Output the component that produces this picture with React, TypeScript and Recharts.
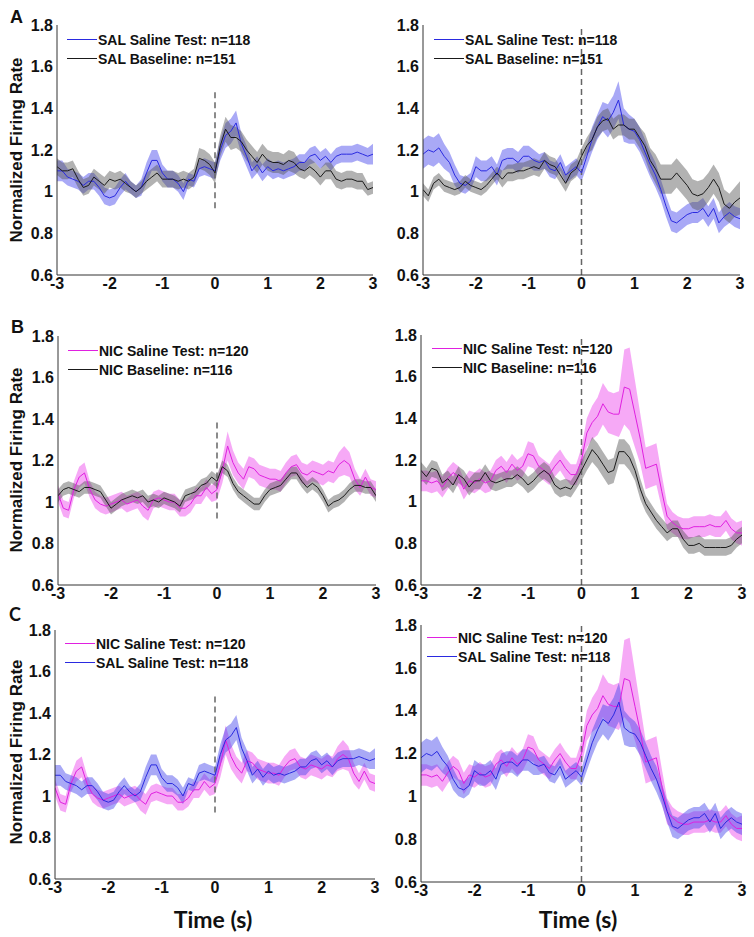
import {
  ComposedChart,
  Area,
  Line,
  XAxis,
  YAxis,
  ReferenceLine,
} from "recharts";

// time bins (s)
const TIME = [
  -3.0, -2.9, -2.8, -2.7, -2.6, -2.5, -2.4, -2.3, -2.2, -2.1,
  -2.0, -1.9, -1.8, -1.7, -1.6, -1.5, -1.4, -1.3, -1.2, -1.1,
  -1.0, -0.9, -0.8, -0.7, -0.6, -0.5, -0.4, -0.3, -0.2, -0.1,
  0.0,
  0.1, 0.2, 0.3, 0.4, 0.5, 0.6, 0.7, 0.8, 0.9, 1.0,
  1.1, 1.2, 1.3, 1.4, 1.5, 1.6, 1.7, 1.8, 1.9, 2.0,
  2.1, 2.2, 2.3, 2.4, 2.5, 2.6, 2.7, 2.8, 2.9, 3.0,
];

const X_TICKS = [-3, -2, -1, 0, 1, 2, 3];
const Y_TICKS = [0.6, 0.8, 1, 1.2, 1.4, 1.6, 1.8];

// left column
const SAL_TEST_L = [
  1.10, 1.10, 1.07, 1.06, 1.05, 1.03, 1.05, 1.05, 1.02, 0.98,
  0.97, 0.98, 1.02, 1.05, 1.02, 1.00, 1.02, 1.09, 1.15, 1.15,
  1.09, 1.06, 1.06, 1.04, 1.00, 1.06, 1.05, 1.11, 1.12, 1.11,
  1.10,
  1.20, 1.27, 1.29, 1.33, 1.23, 1.17, 1.10, 1.13, 1.09, 1.12,
  1.10, 1.11, 1.10, 1.11, 1.12, 1.14, 1.14, 1.17, 1.18, 1.15,
  1.17, 1.14, 1.17, 1.18, 1.18, 1.18, 1.19, 1.18, 1.17, 1.18,
];
const SAL_TEST_L_SEM = [
  0.05, 0.05, 0.04, 0.04, 0.04, 0.04, 0.04, 0.04, 0.04, 0.04,
  0.04, 0.04, 0.04, 0.04, 0.03, 0.03, 0.04, 0.05, 0.05, 0.05,
  0.04, 0.04, 0.04, 0.04, 0.04, 0.03, 0.03, 0.04, 0.04, 0.04,
  0.04,
  0.05, 0.06, 0.06, 0.06, 0.05, 0.05, 0.04, 0.04, 0.04, 0.04,
  0.04, 0.04, 0.04, 0.04, 0.04, 0.04, 0.04, 0.04, 0.04, 0.04,
  0.04, 0.04, 0.04, 0.04, 0.04, 0.04, 0.04, 0.04, 0.04, 0.05,
];
const SAL_BASE_L = [
  1.12, 1.10, 1.10, 1.11, 1.06, 1.02, 1.03, 1.07, 1.05, 1.03,
  1.06, 1.05, 1.06, 1.04, 1.02, 1.00, 1.02, 1.05, 1.07, 1.09,
  1.06, 1.06, 1.06, 1.05, 1.06, 1.05, 1.07, 1.16, 1.15, 1.13,
  1.09,
  1.22, 1.30, 1.26, 1.26, 1.24, 1.20, 1.17, 1.14, 1.18, 1.15,
  1.14, 1.14, 1.13, 1.15, 1.14, 1.11, 1.10, 1.12, 1.10, 1.07,
  1.10, 1.10, 1.06, 1.05, 1.06, 1.06, 1.05, 1.05, 1.01, 1.02,
];
const SAL_BASE_L_SEM = [
  0.04, 0.04, 0.04, 0.04, 0.04, 0.04, 0.04, 0.04, 0.04, 0.04,
  0.04, 0.04, 0.04, 0.04, 0.03, 0.03, 0.03, 0.04, 0.04, 0.04,
  0.04, 0.04, 0.04, 0.04, 0.04, 0.04, 0.04, 0.05, 0.05, 0.05,
  0.05,
  0.05, 0.06, 0.06, 0.05, 0.05, 0.05, 0.05, 0.05, 0.05, 0.05,
  0.05, 0.05, 0.05, 0.05, 0.05, 0.04, 0.04, 0.04, 0.04, 0.04,
  0.04, 0.04, 0.04, 0.04, 0.04, 0.04, 0.04, 0.04, 0.03, 0.03,
];
const NIC_TEST_L = [
  1.04, 0.97, 0.96, 1.06, 1.12, 1.14, 1.06, 1.01, 0.99, 0.98,
  0.99, 1.00, 1.01, 0.99, 1.00, 1.01, 0.98, 0.96, 1.01, 1.02,
  1.01, 1.00, 1.00, 0.97, 0.97, 0.99, 1.03, 1.03, 1.07, 1.04,
  1.06,
  1.15, 1.27, 1.19, 1.14, 1.11, 1.17, 1.16, 1.13, 1.12, 1.11,
  1.11, 1.10, 1.14, 1.17, 1.18, 1.14, 1.13, 1.15, 1.14, 1.13,
  1.15, 1.14, 1.18, 1.20, 1.18, 1.11, 1.07, 1.12, 1.07, 1.06,
];
const NIC_TEST_L_SEM = [
  0.04, 0.04, 0.04, 0.04, 0.05, 0.05, 0.04, 0.04, 0.04, 0.04,
  0.04, 0.04, 0.04, 0.04, 0.04, 0.04, 0.05, 0.05, 0.04, 0.04,
  0.04, 0.04, 0.04, 0.04, 0.04, 0.04, 0.04, 0.04, 0.04, 0.04,
  0.05,
  0.06, 0.07, 0.06, 0.05, 0.05, 0.05, 0.05, 0.05, 0.05, 0.05,
  0.05, 0.05, 0.05, 0.05, 0.05, 0.05, 0.05, 0.05, 0.05, 0.05,
  0.05, 0.05, 0.06, 0.07, 0.06, 0.05, 0.04, 0.04, 0.04, 0.04,
];
const NIC_BASE_L = [
  1.03, 1.06, 1.07, 1.06, 1.05, 1.07, 1.07, 1.06, 1.05, 1.01,
  0.97, 0.99, 1.01, 1.02, 1.03, 1.02, 1.03, 1.00, 1.01, 1.00,
  1.02, 1.01, 1.00, 0.98, 1.03, 1.04, 1.05, 1.08, 1.09, 1.12,
  1.10,
  1.17, 1.15, 1.09, 1.05, 1.03, 1.01, 0.99, 0.99, 1.03, 1.06,
  1.07, 1.08, 1.11, 1.14, 1.14, 1.10, 1.07, 1.09, 1.07, 1.03,
  0.98, 1.00, 1.01, 1.03, 1.06, 1.08, 1.08, 1.07, 1.07, 1.03,
];
const NIC_BASE_L_SEM = [
  0.03, 0.03, 0.03, 0.03, 0.03, 0.03, 0.03, 0.03, 0.03, 0.03,
  0.03, 0.03, 0.03, 0.03, 0.03, 0.03, 0.03, 0.03, 0.03, 0.03,
  0.03, 0.03, 0.03, 0.03, 0.03, 0.03, 0.03, 0.03, 0.03, 0.03,
  0.03,
  0.03, 0.03, 0.03, 0.03, 0.03, 0.03, 0.03, 0.03, 0.03, 0.03,
  0.03, 0.03, 0.03, 0.03, 0.03, 0.03, 0.03, 0.03, 0.03, 0.03,
  0.03, 0.03, 0.03, 0.03, 0.03, 0.03, 0.03, 0.03, 0.03, 0.03,
];

// right column
const SAL_TEST_R = [
  1.18, 1.20, 1.19, 1.21, 1.17, 1.14, 1.08, 1.04, 1.03, 1.05,
  1.12, 1.10, 1.10, 1.12, 1.08, 1.15, 1.16, 1.16, 1.14, 1.17,
  1.17, 1.15, 1.14, 1.15, 1.11, 1.10, 1.14, 1.08, 1.10, 1.12,
  1.09,
  1.17, 1.25, 1.31, 1.36, 1.34, 1.38, 1.44, 1.32, 1.30, 1.29,
  1.25, 1.19, 1.13, 1.08, 1.01, 0.93, 0.86, 0.85, 0.87, 0.89,
  0.90, 0.90, 0.92, 0.88, 0.92, 0.85, 0.88, 0.90, 0.88, 0.87,
];
const SAL_TEST_R_SEM = [
  0.07, 0.07, 0.07, 0.07, 0.06, 0.05, 0.05, 0.04, 0.04, 0.04,
  0.05, 0.05, 0.05, 0.05, 0.05, 0.05, 0.05, 0.05, 0.05, 0.05,
  0.05, 0.05, 0.04, 0.04, 0.04, 0.04, 0.04, 0.04, 0.04, 0.04,
  0.04,
  0.05, 0.06, 0.06, 0.07, 0.08, 0.08, 0.09, 0.08, 0.07, 0.06,
  0.06, 0.06, 0.06, 0.06, 0.05, 0.05, 0.05, 0.05, 0.05, 0.05,
  0.05, 0.05, 0.05, 0.05, 0.05, 0.05, 0.05, 0.05, 0.05, 0.05,
];
const SAL_BASE_R = [
  1.01, 0.98, 1.04, 1.06, 1.03, 1.02, 1.01, 1.02, 1.05, 1.03,
  1.02, 1.01, 1.03, 1.06, 1.09, 1.06, 1.09, 1.09, 1.10, 1.10,
  1.11, 1.12, 1.11, 1.15, 1.13, 1.12, 1.08, 1.04, 1.09, 1.11,
  1.17,
  1.22, 1.25, 1.31, 1.34, 1.35, 1.30, 1.32, 1.32, 1.30, 1.30,
  1.26, 1.22, 1.15, 1.11, 1.06, 1.06, 1.06, 1.09, 1.06, 1.03,
  0.99, 0.98, 0.99, 1.02, 1.06, 1.02, 0.94, 0.92, 0.95, 0.97,
];
const SAL_BASE_R_SEM = [
  0.03, 0.03, 0.03, 0.03, 0.03, 0.03, 0.03, 0.03, 0.03, 0.03,
  0.03, 0.03, 0.03, 0.03, 0.03, 0.04, 0.04, 0.04, 0.04, 0.04,
  0.04, 0.04, 0.04, 0.04, 0.04, 0.04, 0.04, 0.04, 0.04, 0.04,
  0.04,
  0.04, 0.05, 0.05, 0.05, 0.05, 0.05, 0.05, 0.05, 0.05, 0.05,
  0.05, 0.06, 0.06, 0.07, 0.07, 0.07, 0.07, 0.07, 0.07, 0.07,
  0.07, 0.07, 0.07, 0.07, 0.07, 0.07, 0.07, 0.07, 0.07, 0.08,
];
const NIC_TEST_R = [
  1.10, 1.10, 1.09, 1.10, 1.07, 1.11, 1.14, 1.12, 1.06, 1.10,
  1.09, 1.11, 1.09, 1.10, 1.15, 1.17, 1.14, 1.18, 1.15, 1.17,
  1.23, 1.22, 1.17, 1.15, 1.13, 1.17, 1.20, 1.16, 1.13, 1.13,
  1.20,
  1.33, 1.38, 1.41, 1.47, 1.43, 1.42, 1.42, 1.55, 1.54, 1.42,
  1.30, 1.16, 1.17, 1.18, 1.05, 0.93, 0.90, 0.88, 0.87, 0.87,
  0.88, 0.88, 0.88, 0.89, 0.88, 0.88, 0.91, 0.87, 0.85, 0.85,
];
const NIC_TEST_R_SEM = [
  0.05, 0.05, 0.05, 0.05, 0.05, 0.05, 0.05, 0.05, 0.05, 0.05,
  0.05, 0.05, 0.05, 0.05, 0.05, 0.05, 0.05, 0.05, 0.05, 0.05,
  0.06, 0.06, 0.05, 0.05, 0.05, 0.05, 0.05, 0.05, 0.05, 0.05,
  0.06,
  0.07, 0.08, 0.09, 0.10, 0.10, 0.10, 0.11, 0.18, 0.20, 0.16,
  0.12, 0.10, 0.10, 0.10, 0.08, 0.06, 0.05, 0.05, 0.05, 0.05,
  0.05, 0.05, 0.05, 0.05, 0.05, 0.05, 0.05, 0.05, 0.05, 0.06,
];
const NIC_BASE_R = [
  1.15, 1.12, 1.16, 1.15, 1.09, 1.11, 1.08, 1.13, 1.11, 1.07,
  1.10, 1.10, 1.14, 1.10, 1.09, 1.10, 1.11, 1.11, 1.13, 1.11,
  1.08, 1.10, 1.13, 1.15, 1.13, 1.08, 1.06, 1.07, 1.06, 1.10,
  1.15,
  1.20, 1.25, 1.22, 1.18, 1.14, 1.15, 1.24, 1.24, 1.21, 1.15,
  1.06, 0.99, 0.95, 0.91, 0.88, 0.85, 0.87, 0.87, 0.82, 0.79,
  0.79, 0.80, 0.78, 0.78, 0.78, 0.78, 0.78, 0.79, 0.82, 0.84,
];
const NIC_BASE_R_SEM = [
  0.04, 0.04, 0.04, 0.04, 0.04, 0.04, 0.04, 0.04, 0.04, 0.04,
  0.04, 0.04, 0.04, 0.04, 0.04, 0.04, 0.04, 0.04, 0.04, 0.04,
  0.04, 0.04, 0.04, 0.04, 0.04, 0.04, 0.04, 0.04, 0.04, 0.04,
  0.05,
  0.05, 0.06, 0.06, 0.06, 0.06, 0.06, 0.06, 0.06, 0.06, 0.05,
  0.05, 0.04, 0.04, 0.04, 0.04, 0.04, 0.04, 0.04, 0.04, 0.04,
  0.04, 0.04, 0.04, 0.04, 0.04, 0.04, 0.04, 0.04, 0.04, 0.04,
];

const BLUE = { line: "#2a2ae0", fill: "#4141eb" };
const MAGENTA = { line: "#e020e0", fill: "#eb41eb" };
const BLACK = { line: "#1a1a1a", fill: "#555555" };

const TICK_FONT = {
  fontFamily: "'Liberation Sans', Arial, sans-serif",
  fontWeight: "bold",
  fontSize: 16,
  fill: "#111",
};

type Series = {
  name: string;
  mean: number[];
  sem: number[];
  color: { line: string; fill: string };
};

function buildRows(a: Series, b: Series) {
  return TIME.map((t, i) => ({
    t,
    a: a.mean[i],
    aBand: [a.mean[i] - a.sem[i], a.mean[i] + a.sem[i]],
    b: b.mean[i],
    bBand: [b.mean[i] - b.sem[i], b.mean[i] + b.sem[i]],
  }));
}

const salTestL = { name: "SAL Saline Test: n=118", mean: SAL_TEST_L, sem: SAL_TEST_L_SEM, color: BLUE };
const salBaseL = { name: "SAL Baseline: n=151", mean: SAL_BASE_L, sem: SAL_BASE_L_SEM, color: BLACK };
const nicTestL = { name: "NIC Saline Test: n=120", mean: NIC_TEST_L, sem: NIC_TEST_L_SEM, color: MAGENTA };
const nicBaseL = { name: "NIC Baseline: n=116", mean: NIC_BASE_L, sem: NIC_BASE_L_SEM, color: BLACK };
const salTestR = { name: "SAL Saline Test: n=118", mean: SAL_TEST_R, sem: SAL_TEST_R_SEM, color: BLUE };
const salBaseR = { name: "SAL Baseline: n=151", mean: SAL_BASE_R, sem: SAL_BASE_R_SEM, color: BLACK };
const nicTestR = { name: "NIC Saline Test: n=120", mean: NIC_TEST_R, sem: NIC_TEST_R_SEM, color: MAGENTA };
const nicBaseR = { name: "NIC Baseline: n=116", mean: NIC_BASE_R, sem: NIC_BASE_R_SEM, color: BLACK };

type PanelProps = {
  x: number; // plot-area left in page px
  y: number; // plot-area top
  w: number;
  h: number;
  a: Series;
  b: Series;
  dash?: [number, number]; // short dashed line at t=0, else full height
  legendDx?: number;
  legendDy?: number;
};

function Panel({ x, y, w, h, a, b, dash, legendDx = 10, legendDy = 14 }: PanelProps) {
  const yw = 50;
  const mt = 10;
  const mr = 10;
  const xh = 30;
  const rows = buildRows(a, b);
  return (
    <div style={{ position: "absolute", left: x - yw, top: y - mt }}>
      <ComposedChart
        width={yw + w + mr}
        height={mt + h + xh}
        data={rows}
        margin={{ top: mt, right: mr, left: 0, bottom: 0 }}
      >
        <XAxis
          type="number"
          dataKey="t"
          domain={[-3, 3]}
          ticks={X_TICKS}
          height={xh}
          tickLine={false}
          tickSize={0}
          tickMargin={3}
          axisLine={{ stroke: "#333" }}
          tick={TICK_FONT}
          allowDataOverflow
        />
        <YAxis
          type="number"
          domain={[0.6, 1.8]}
          ticks={Y_TICKS}
          width={yw}
          tickLine={false}
          tickSize={0}
          tickMargin={4}
          axisLine={{ stroke: "#333" }}
          tick={TICK_FONT}
          tickFormatter={(v: number) => (v === 1 ? "1" : v.toFixed(1))}
          allowDataOverflow
        />
        <Area
          dataKey="aBand"
          type="linear"
          stroke="none"
          fill={a.color.fill}
          fillOpacity={0.45}
          isAnimationActive={false}
        />
        <Area
          dataKey="bBand"
          type="linear"
          stroke="none"
          fill={b.color.fill}
          fillOpacity={0.45}
          isAnimationActive={false}
        />
        {dash ? (
          <ReferenceLine
            segment={[{ x: 0, y: dash[0] }, { x: 0, y: dash[1] }]}
            stroke="#666"
            strokeWidth={1.5}
            strokeDasharray="6 4"
          />
        ) : (
          <ReferenceLine x={0} stroke="#666" strokeWidth={1.5} strokeDasharray="6 4" />
        )}
        <Line dataKey="a" type="linear" stroke={a.color.line} strokeWidth={1} dot={false} isAnimationActive={false} />
        <Line dataKey="b" type="linear" stroke={b.color.line} strokeWidth={1} dot={false} isAnimationActive={false} />
      </ComposedChart>
      <div
        style={{
          position: "absolute",
          left: yw + legendDx,
          top: mt + legendDy - 9,
          fontFamily: "'Liberation Sans', Arial, sans-serif",
          fontWeight: "bold",
          fontSize: 14,
          color: "#111",
        }}
      >
        {[a, b].map((s) => (
          <div key={s.name} style={{ display: "flex", alignItems: "center", height: 19 }}>
            <span style={{ width: 30, borderTop: `1px solid ${s.color.line}`, marginRight: 1 }} />
            <span>{s.name}</span>
          </div>
        ))}
      </div>
    </div>
  );
}

const yLabelStyle = (cy: number): React.CSSProperties => ({
  position: "absolute",
  left: 17 - 125,
  top: cy - 10,
  width: 250,
  height: 20,
  lineHeight: "20px",
  textAlign: "center",
  transform: "rotate(-90deg)",
  fontFamily: "'Liberation Sans', Arial, sans-serif",
  fontWeight: "bold",
  fontSize: 17,
  color: "#111",
});

const letterStyle = (left: number, top: number): React.CSSProperties => ({
  position: "absolute",
  left,
  top,
  fontFamily: "'Liberation Sans', Arial, sans-serif",
  fontWeight: "bold",
  fontSize: 18,
  lineHeight: 1,
  color: "#111",
});

const timeStyle = (cx: number): React.CSSProperties => ({
  position: "absolute",
  left: cx - 60,
  top: 905,
  width: 120,
  textAlign: "center",
  fontFamily: "Lato, 'Open Sans', sans-serif",
  fontWeight: "bold",
  fontSize: 23,
  lineHeight: "28px",
  color: "#111",
});

export default function App() {
  return (
    <div
      style={{
        position: "absolute",
        left: 0,
        top: 0,
        width: 754,
        height: 937,
        background: "#fff",
        overflow: "hidden",
      }}
    >
      <div style={letterStyle(10, 8)}>A</div>
      <div style={letterStyle(11, 318)}>B</div>
      <div style={{ ...letterStyle(9, 605), fontFamily: "Lato, sans-serif" }}>C</div>

      <div style={yLabelStyle(150)}>Normalized Firing Rate</div>
      <div style={yLabelStyle(460)}>Normalized Firing Rate</div>
      <div style={yLabelStyle(752)}>Normalized Firing Rate</div>

      <Panel x={57} y={25} w={316} h={250} a={salTestL} b={salBaseL} dash={[0.92, 1.49]} />
      <Panel x={423} y={25} w={317} h={250} a={salTestR} b={salBaseR} legendDx={11} />
      <Panel x={58} y={336} w={318} h={249} a={nicTestL} b={nicBaseL} dash={[0.92, 1.4]} />
      <Panel x={421} y={335} w={321} h={250} a={nicTestR} b={nicBaseR} legendDx={11} legendDy={13} />
      <Panel x={55} y={630} w={320} h={249} a={nicTestL} b={salTestL} dash={[0.92, 1.49]} legendDy={13} />
      <Panel x={421} y={625} w={321} h={257} a={nicTestR} b={salTestR} legendDx={6} legendDy={12} />

      <div style={timeStyle(213)}>Time (s)</div>
      <div style={timeStyle(578)}>Time (s)</div>
    </div>
  );
}
